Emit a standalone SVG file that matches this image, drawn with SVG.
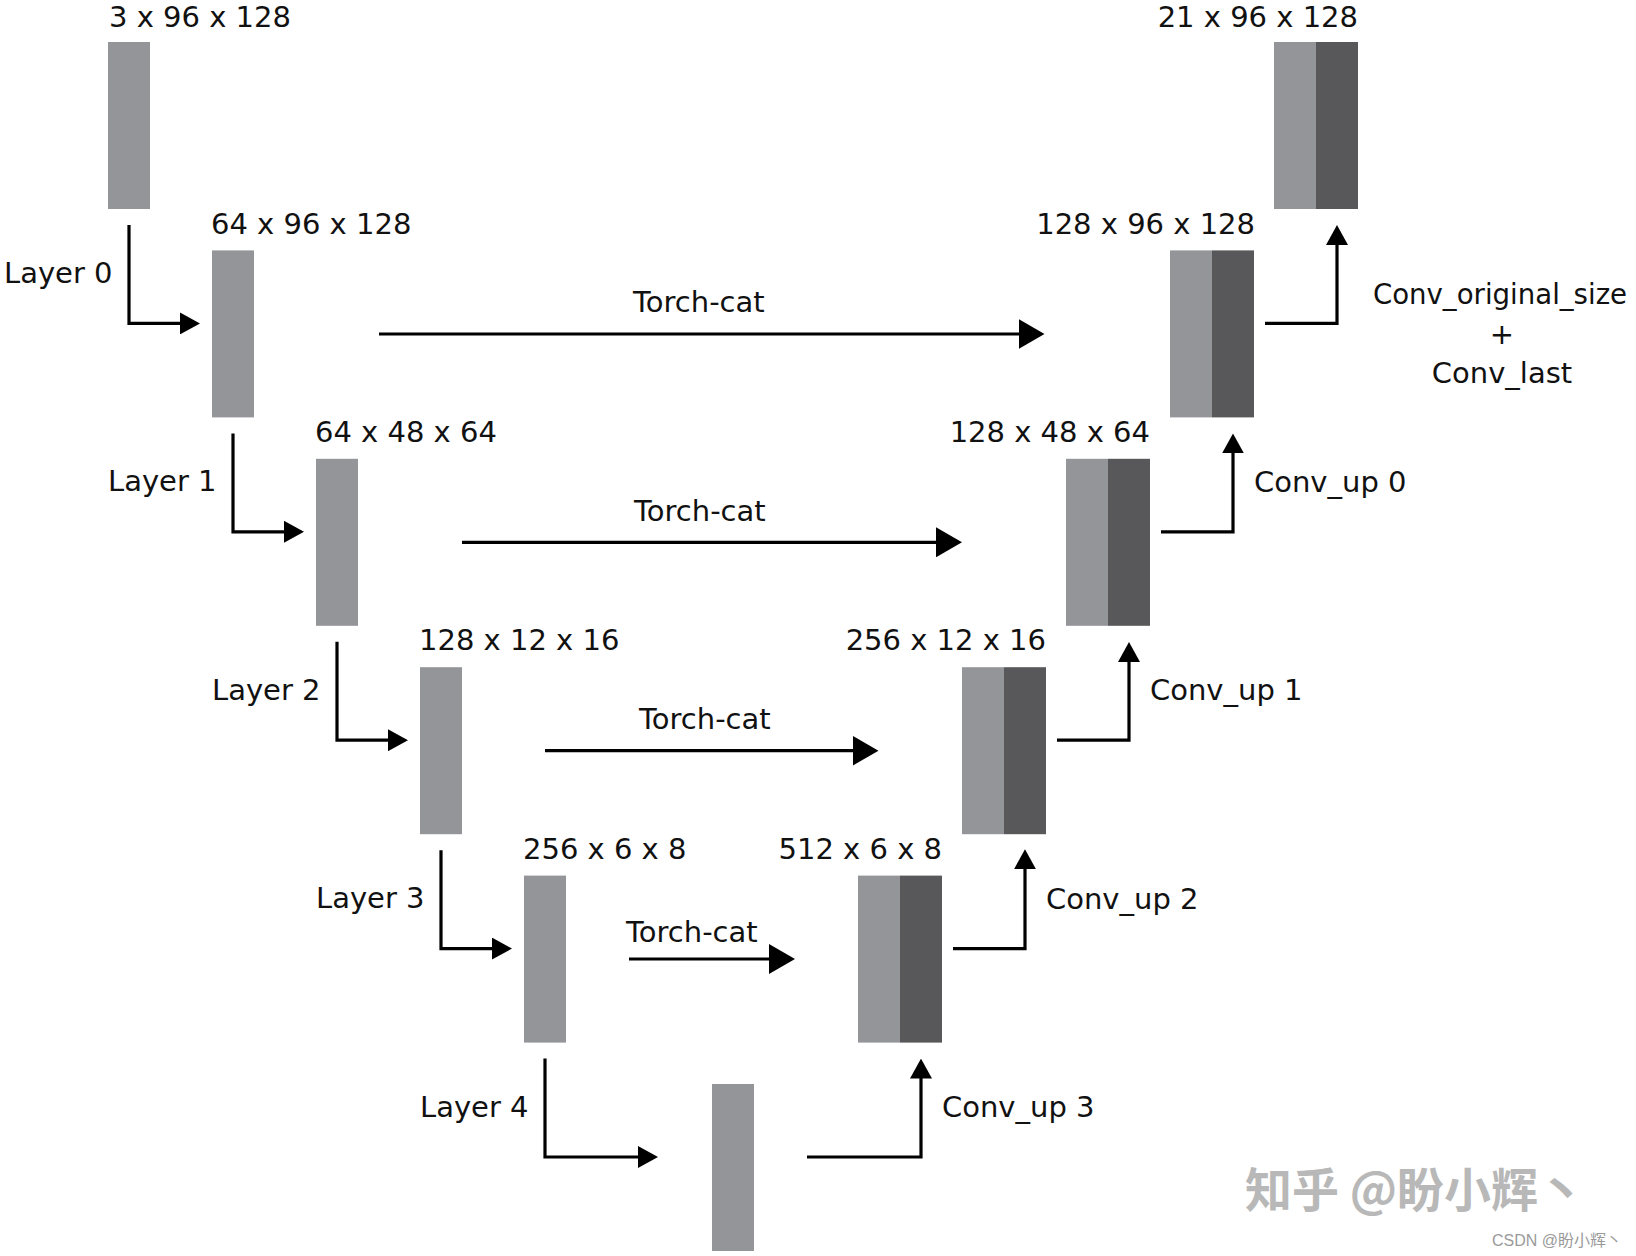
<svg xmlns="http://www.w3.org/2000/svg" width="1636" height="1256" viewBox="0 0 1636 1256">
<style>
.lt{fill:#939598}
.dk{fill:#58585a}
text{font-family:"DejaVu Sans","Liberation Sans",sans-serif;font-size:29px;fill:#111}
.e{text-anchor:end}
.m{text-anchor:middle}
.c{fill:none;stroke:#000;stroke-width:3.2}
.wm{font-family:"Noto Sans CJK SC",sans-serif;font-size:47px;font-weight:700;fill:#b8b8b8}
.wm2{font-family:"Liberation Sans","Noto Sans CJK SC",sans-serif;font-size:16px;fill:#9a9a9a}
</style>
<defs>
<marker id="ah" markerUnits="userSpaceOnUse" viewBox="0 0 20 22" refX="1" refY="11" markerWidth="20" markerHeight="22" orient="auto"><path d="M0,0 L20,11 L0,22 z" fill="#000"/></marker>
<marker id="ahL" markerUnits="userSpaceOnUse" viewBox="0 0 26 30" refX="1" refY="15" markerWidth="26" markerHeight="30" orient="auto"><path d="M0,0 L26,15 L0,30 z" fill="#000"/></marker>
</defs>
<rect width="1636" height="1256" fill="#fff"/>

<g id="enc0"><rect class="lt" x="108" y="42" width="42" height="167"/><text x="109" y="27">3 x 96 x 128</text></g>
<g id="enc1"><rect class="lt" x="212" y="250.4" width="42" height="167"/><text x="211" y="234">64 x 96 x 128</text></g>
<g id="enc2"><rect class="lt" x="316" y="458.8" width="42" height="167"/><text x="315" y="442">64 x 48 x 64</text></g>
<g id="enc3"><rect class="lt" x="420" y="667.2" width="42" height="167"/><text x="419" y="650">128 x 12 x 16</text></g>
<g id="enc4"><rect class="lt" x="524" y="875.6" width="42" height="167"/><text x="523" y="859">256 x 6 x 8</text></g>
<g id="bottom"><rect class="lt" x="712" y="1084" width="42" height="167"/></g>

<g id="dec3"><rect class="lt" x="858" y="875.6" width="42" height="167"/><rect class="dk" x="900" y="875.6" width="42" height="167"/><text class="e" x="942" y="859">512 x 6 x 8</text></g>
<g id="dec2"><rect class="lt" x="962" y="667.2" width="42" height="167"/><rect class="dk" x="1004" y="667.2" width="42" height="167"/><text class="e" x="1046" y="650">256 x 12 x 16</text></g>
<g id="dec1"><rect class="lt" x="1066" y="458.8" width="42" height="167"/><rect class="dk" x="1108" y="458.8" width="42" height="167"/><text class="e" x="1150" y="442">128 x 48 x 64</text></g>
<g id="dec0"><rect class="lt" x="1170" y="250.4" width="42" height="167"/><rect class="dk" x="1212" y="250.4" width="42" height="167"/><text class="e" x="1255" y="234">128 x 96 x 128</text></g>
<g id="out"><rect class="lt" x="1274" y="42" width="42" height="167"/><rect class="dk" x="1316" y="42" width="42" height="167"/><text class="e" x="1358" y="27">21 x 96 x 128</text></g>

<g id="connectors">
<path class="c" marker-end="url(#ah)" d="M129,225 V323.4 H181"/>
<path class="c" marker-end="url(#ah)" d="M233,433.4 V531.8 H285"/>
<path class="c" marker-end="url(#ah)" d="M337,641.8 V740.2 H389"/>
<path class="c" marker-end="url(#ah)" d="M441,850.2 V948.6 H493"/>
<path class="c" marker-end="url(#ah)" d="M545,1058.6 V1157 H639"/>
<path class="c" marker-end="url(#ahL)" d="M379,334 H1019.5"/>
<path class="c" marker-end="url(#ahL)" d="M462,542.3 H937"/>
<path class="c" marker-end="url(#ahL)" d="M545,750.7 H853.5"/>
<path class="c" marker-end="url(#ahL)" d="M629,959 H770"/>
<path class="c" marker-end="url(#ah)" d="M807,1157 H921 V1077.6"/>
<path class="c" marker-end="url(#ah)" d="M953,948.6 H1025 V868.2"/>
<path class="c" marker-end="url(#ah)" d="M1057,740.2 H1129 V661"/>
<path class="c" marker-end="url(#ah)" d="M1161,531.8 H1233 V452.4"/>
<path class="c" marker-end="url(#ah)" d="M1265,323.4 H1337 V244"/>
</g>

<g id="labels">
<text x="4" y="283">Layer 0</text>
<text x="108" y="491.4">Layer 1</text>
<text x="212" y="699.8">Layer 2</text>
<text x="316" y="908.2">Layer 3</text>
<text x="420" y="1116.6">Layer 4</text>
<text x="633" y="312">Torch-cat</text>
<text x="634" y="520.7">Torch-cat</text>
<text x="639" y="729.3">Torch-cat</text>
<text x="626" y="941.5">Torch-cat</text>
<text x="1254" y="492">Conv_up 0</text>
<text x="1150" y="700">Conv_up 1</text>
<text x="1046" y="908.5">Conv_up 2</text>
<text x="942" y="1117">Conv_up 3</text>
<text class="m" x="1500" y="304" style="font-size:27.6px">Conv_original_size</text>
<text class="m" x="1502" y="344">+</text>
<text class="m" x="1502" y="383">Conv_last</text>
</g>

<g id="watermark">
<text class="wm" x="1245" y="1207">知乎 @盼小辉丶</text>
<text class="wm2" x="1492" y="1246">CSDN @盼小辉丶</text>
</g>
</svg>
